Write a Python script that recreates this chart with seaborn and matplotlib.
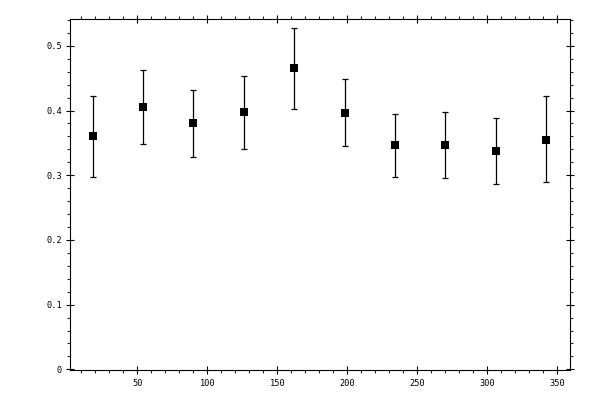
import matplotlib
matplotlib.use("Agg")
import matplotlib.pyplot as plt
from matplotlib.ticker import MultipleLocator, FuncFormatter
import seaborn as sns
import pandas as pd
import numpy as np

# data
x_vals = [18, 54, 90, 126, 162, 198, 234, 270, 306, 342]
y_vals = [0.360, 0.406, 0.380, 0.397, 0.465, 0.396, 0.346, 0.346, 0.338, 0.355]
y_upper = [0.423, 0.463, 0.431, 0.454, 0.528, 0.448, 0.394, 0.397, 0.389, 0.422]
y_lower = [0.298, 0.349, 0.328, 0.340, 0.403, 0.345, 0.298, 0.295, 0.287, 0.289]
x_ticks = [50, 100, 150, 200, 250, 300, 350]
y_ticks = [0.0, 0.1, 0.2, 0.3, 0.4, 0.5]

df = pd.DataFrame({"x": x_vals, "y": y_vals, "lo": y_lower, "hi": y_upper})

sns.set_style("ticks")
plt.rcParams["font.family"] = ["DejaVu Sans Mono", "DejaVu Sans"]

fig = plt.figure(figsize=(6, 4), dpi=100)
ax = fig.add_axes([0.1162, 0.075, 0.8343, 0.8768])

yerr = np.array([df["y"] - df["lo"], df["hi"] - df["y"]])
ax.errorbar(df["x"], df["y"], yerr=yerr, fmt="none", ecolor="black",
            elinewidth=0.9, capsize=2.0, capthick=0.9, zorder=2)
sns.scatterplot(data=df, x="x", y="y", ax=ax, marker="s", s=28,
                color="black", edgecolor="black", linewidth=0, zorder=3)

ax.set_xlim(1.7, 359.3)
ax.set_ylim(-0.001, 0.541)
ax.set_xticks(x_ticks)
ax.set_yticks(y_ticks)
ax.xaxis.set_minor_locator(MultipleLocator(10))
ax.yaxis.set_minor_locator(MultipleLocator(0.02))
ax.yaxis.set_major_formatter(FuncFormatter(lambda v, p: "0" if abs(v) < 1e-9 else f"{v:.1f}"))
ax.set_xlabel("")
ax.set_ylabel("")

for s in ax.spines.values():
    s.set_visible(True)
    s.set_linewidth(0.8)
    s.set_color("black")

ax.tick_params(which="major", direction="inout", length=6, width=0.8,
               top=True, right=True, labelsize=6.2, colors="black")
ax.tick_params(which="minor", direction="out", length=2.5, width=0.8,
               top=True, right=True)
ax.tick_params(axis="x", which="major", pad=3.5)
ax.tick_params(axis="y", which="major", pad=2.5)

fig.savefig("out.png", dpi=100)
